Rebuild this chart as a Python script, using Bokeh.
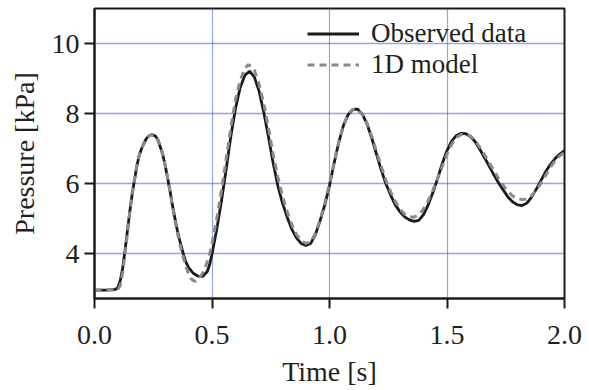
from bokeh.plotting import figure
from bokeh.models import Range1d, FixedTicker, Legend, LegendItem, CustomJSTickFormatter
from bokeh.embed import file_html
from bokeh.resources import INLINE

# Observed data (time [s], pressure [kPa])
t_obs = [0.00, 0.05, 0.09, 0.10, 0.11, 0.12, 0.13, 0.14, 0.15, 0.16, 0.17, 0.18, 0.19,
         0.20, 0.21, 0.22, 0.23, 0.245, 0.26, 0.27, 0.28, 0.29, 0.30, 0.31, 0.32, 0.33,
         0.34, 0.35, 0.36, 0.37, 0.38, 0.39, 0.40, 0.42, 0.44, 0.46, 0.48, 0.49, 0.50,
         0.52, 0.54, 0.56, 0.58, 0.60, 0.62, 0.64, 0.66, 0.68, 0.70, 0.72, 0.74, 0.76,
         0.78, 0.80, 0.82, 0.84, 0.86, 0.88, 0.90, 0.92, 0.94, 0.96, 0.98, 1.00, 1.02,
         1.04, 1.06, 1.08, 1.10, 1.12, 1.14, 1.16, 1.18, 1.20, 1.22, 1.24, 1.26, 1.28,
         1.30, 1.32, 1.34, 1.36, 1.38, 1.40, 1.42, 1.44, 1.46, 1.48, 1.50, 1.52, 1.54,
         1.56, 1.58, 1.60, 1.62, 1.64, 1.66, 1.68, 1.70, 1.72, 1.74, 1.76, 1.78, 1.80,
         1.82, 1.84, 1.86, 1.88, 1.90, 1.92, 1.94, 1.96, 1.98, 2.00]
p_obs = [2.97, 2.97, 2.99, 3.05, 3.25, 3.60, 4.10, 4.65, 5.20, 5.70, 6.10, 6.50, 6.80,
         7.00, 7.15, 7.28, 7.36, 7.41, 7.36, 7.25, 7.05, 6.85, 6.55, 6.20, 5.85, 5.45,
         5.10, 4.75, 4.45, 4.20, 3.95, 3.75, 3.62, 3.45, 3.37, 3.36, 3.50, 3.70, 4.00,
         4.70, 5.50, 6.40, 7.35, 8.15, 8.75, 9.10, 9.21, 9.05, 8.65, 8.05, 7.35, 6.60,
         5.95, 5.45, 5.05, 4.70, 4.45, 4.30, 4.24, 4.30, 4.55, 4.95, 5.40, 5.95, 6.60,
         7.20, 7.68, 7.98, 8.12, 8.13, 7.98, 7.70, 7.30, 6.85, 6.40, 6.00, 5.68, 5.40,
         5.20, 5.06, 4.97, 4.93, 4.96, 5.12, 5.40, 5.75, 6.15, 6.58, 6.95, 7.22, 7.38,
         7.44, 7.43, 7.35, 7.20, 6.98, 6.74, 6.50, 6.25, 6.02, 5.82, 5.62, 5.48, 5.40,
         5.38, 5.45, 5.62, 5.85, 6.10, 6.35, 6.55, 6.72, 6.85, 6.95]

# 1D model
t_mod = [0.00, 0.05, 0.09, 0.10, 0.11, 0.12, 0.13, 0.14, 0.15, 0.16, 0.17, 0.18, 0.19,
         0.20, 0.21, 0.22, 0.23, 0.245, 0.26, 0.27, 0.28, 0.29, 0.30, 0.31, 0.32, 0.33,
         0.34, 0.35, 0.36, 0.37, 0.38, 0.39, 0.40, 0.41, 0.42, 0.43, 0.44, 0.46, 0.48,
         0.49, 0.50, 0.52, 0.54, 0.56, 0.58, 0.60, 0.62, 0.64, 0.655, 0.67, 0.68, 0.70,
         0.72, 0.74, 0.76, 0.78, 0.80, 0.82, 0.84, 0.86, 0.88, 0.90, 0.92, 0.94, 0.96,
         0.98, 1.00, 1.02, 1.04, 1.06, 1.08, 1.10, 1.12, 1.14, 1.16, 1.18, 1.20, 1.22,
         1.24, 1.26, 1.28, 1.30, 1.32, 1.34, 1.36, 1.38, 1.40, 1.42, 1.44, 1.46, 1.48,
         1.50, 1.52, 1.54, 1.56, 1.58, 1.60, 1.62, 1.64, 1.66, 1.68, 1.70, 1.72, 1.74,
         1.76, 1.78, 1.80, 1.82, 1.84, 1.86, 1.88, 1.90, 1.92, 1.94, 1.96, 1.98, 2.00]
p_mod = [2.97, 2.97, 2.97, 2.98, 3.12, 3.48, 4.02, 4.60, 5.18, 5.70, 6.12, 6.50, 6.80,
         7.00, 7.15, 7.28, 7.36, 7.41, 7.37, 7.26, 7.07, 6.85, 6.55, 6.20, 5.83, 5.43,
         5.05, 4.70, 4.38, 4.10, 3.85, 3.62, 3.44, 3.31, 3.24, 3.22, 3.26, 3.45, 3.78,
         4.00, 4.30, 5.00, 5.80, 6.70, 7.60, 8.40, 8.95, 9.30, 9.40, 9.33, 9.25, 8.85,
         8.30, 7.60, 6.85, 6.20, 5.65, 5.20, 4.83, 4.55, 4.38, 4.30, 4.35, 4.58, 4.97,
         5.45, 6.00, 6.62, 7.20, 7.68, 8.00, 8.13, 8.12, 7.98, 7.72, 7.35, 6.92, 6.50,
         6.10, 5.78, 5.50, 5.28, 5.13, 5.06, 5.05, 5.12, 5.28, 5.52, 5.82, 6.15, 6.50,
         6.85, 7.13, 7.32, 7.41, 7.42, 7.36, 7.23, 7.04, 6.82, 6.60, 6.37, 6.15, 5.95,
         5.78, 5.65, 5.58, 5.55, 5.57, 5.66, 5.82, 6.02, 6.25, 6.47, 6.66, 6.80, 6.90]

x_ticks = [0.0, 0.5, 1.0, 1.5, 2.0]
y_ticks = [4, 6, 8, 10]
series_names = ["Observed data", "1D model"]

FONT = "Liberation Serif"

p = figure(width=588, height=389, output_backend="svg", toolbar_location=None,
           x_range=Range1d(0.0, 2.0), y_range=Range1d(2.73, 11.0),
           min_border_left=94, min_border_right=24, min_border_top=8, min_border_bottom=86,
           x_axis_label="Time [s]", y_axis_label="Pressure [kPa]")

p.outline_line_color = "#1a1a1a"
p.outline_line_width = 2
p.background_fill_color = "white"
p.border_fill_color = "white"

for ax in (p.xaxis[0], p.yaxis[0]):
    ax.axis_line_width = 2
    ax.axis_line_color = "#1a1a1a"
    ax.major_tick_line_width = 2
    ax.major_tick_line_color = "#1a1a1a"
    ax.major_tick_out = 10
    ax.major_tick_in = 0
    ax.minor_tick_line_color = None
    ax.major_label_text_font = FONT
    ax.major_label_text_font_size = "28px"
    ax.major_label_text_color = "#231f20"
    ax.axis_label_text_font = FONT
    ax.axis_label_text_font_size = "28px"
    ax.axis_label_text_font_style = "normal"
    ax.axis_label_text_color = "#231f20"

p.xaxis.ticker = FixedTicker(ticks=x_ticks)
p.yaxis.ticker = FixedTicker(ticks=y_ticks)
p.xaxis.formatter = CustomJSTickFormatter(code="return tick.toFixed(1);")
p.xaxis.major_label_standoff = 17
p.xaxis.axis_label_standoff = 9
p.yaxis.major_label_standoff = 5
p.yaxis.axis_label_standoff = 9

p.xgrid.grid_line_color = "#2a4bd0"
p.xgrid.grid_line_width = 1.2
p.xgrid.grid_line_dash = "1 1"
p.ygrid.grid_line_color = "#2a4bd0"
p.ygrid.grid_line_width = 1.6
p.ygrid.grid_line_dash = "1 1"

r_obs = p.line(t_obs, p_obs, line_color="#1a1a1a", line_width=2.8)
r_mod = p.line(t_mod, p_mod, line_color="#8a8a8a", line_width=3, line_dash="7 5")

legend = Legend(items=[LegendItem(label=series_names[0], renderers=[r_obs]),
                       LegendItem(label=series_names[1], renderers=[r_mod])],
                location=(213, 218), background_fill_alpha=0, border_line_color=None,
                label_text_font=FONT, label_text_font_size="27px", label_text_color="#231f20",
                glyph_width=52, glyph_height=27, label_height=27, label_standoff=12,
                spacing=0, padding=5, margin=0)
p.add_layout(legend)

open("out.html", "w").write(file_html(p, INLINE))
